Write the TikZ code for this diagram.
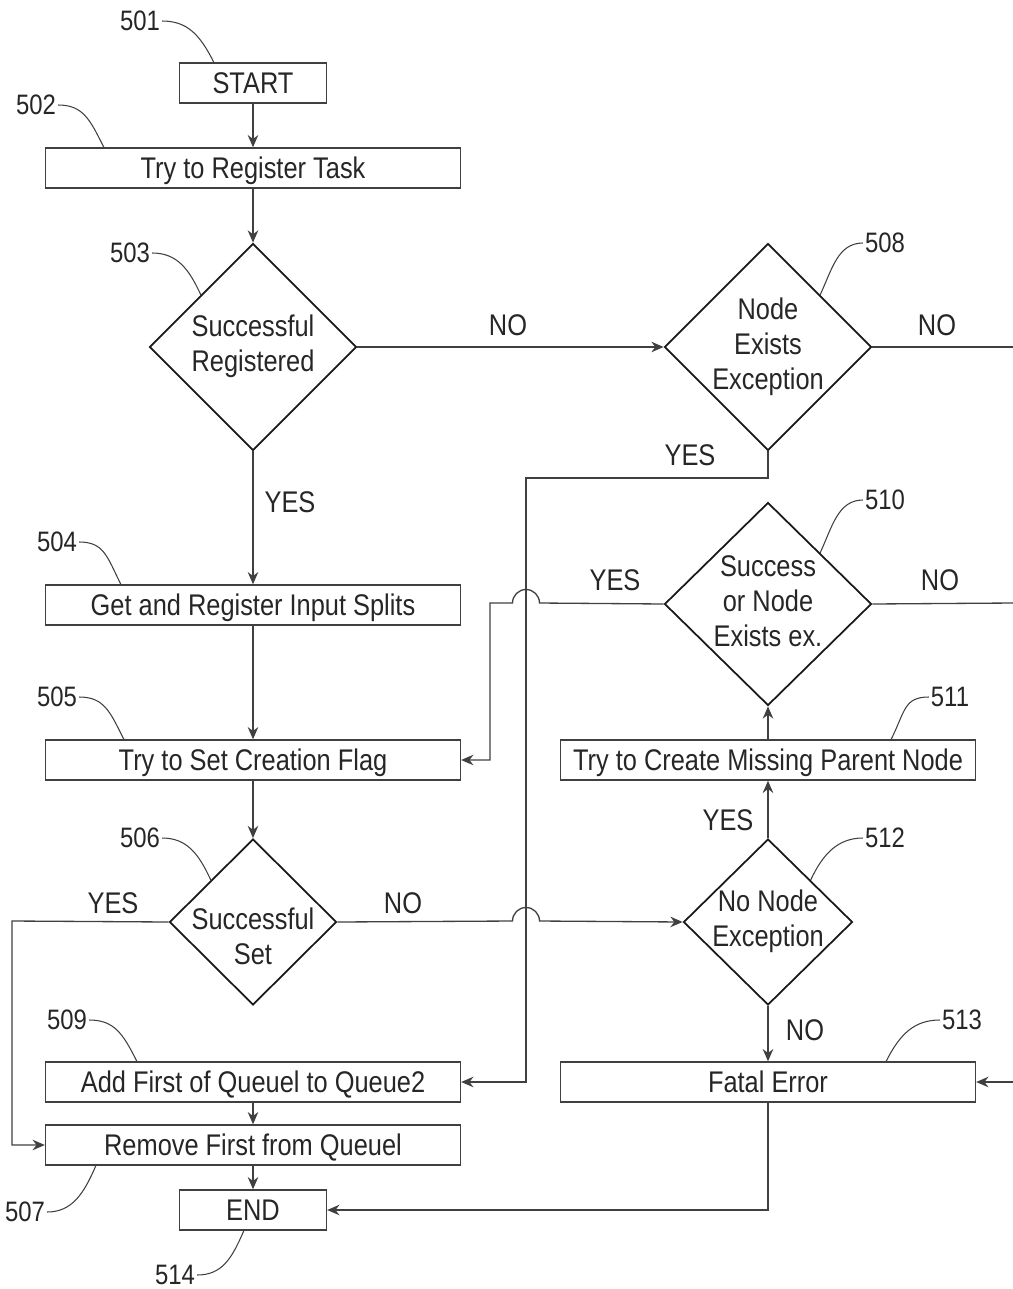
\documentclass[tikz,border=0pt]{standalone}
\usepackage{fontspec}
\setmainfont{Liberation Sans}[FakeStretch=0.85]
\usetikzlibrary{shapes.geometric,arrows.meta,calc}
\newcommand{\dgfont}{\fontsize{17}{20}\selectfont}
\begin{document}
\begin{tikzpicture}[x=0.02cm,y=-0.02cm,
  every node/.style={font=\dgfont, text=black!85},
  box/.style={draw=black!75, line width=0.8pt, minimum width=8.3cm, minimum height=0.8cm, inner sep=0pt, text height=12.2pt, text depth=0pt},
  smallbox/.style={box, minimum width=2.94cm},
  dia/.style={draw=black!90, line width=1pt, shape=diamond, inner sep=0pt},
  txt/.style={align=center, inner sep=0pt},
  num/.style={inner sep=1pt, font=\fontsize{16}{19}\selectfont},
  lab/.style={inner sep=1pt},
  conn/.style={draw=black!75, line width=0.75pt},
  arr/.style={conn, -{Stealth[length=7pt,width=6pt]}},
  lead/.style={draw=black!75, line width=0.6pt}
]
\useasboundingbox (0,0) rectangle (1013,1289);

% boxes
\node[smallbox] (start) at (253,83) {START};
\node[box] (b502) at (253,168) {Try to Register Task};
\node[box] (b504) at (253,605) {Get and Register Input Splits};
\node[box] (b505) at (253,760) {Try to Set Creation Flag};
\node[box] (b509) at (253,1082) {Add First of Queuel to Queue2};
\node[box] (b507) at (253,1145) {Remove First from Queuel};
\node[smallbox] (end) at (253,1210) {END};
\node[box] (b511) at (768,760) {Try to Create Missing Parent Node};
\node[box] (b513) at (768,1082) {Fatal Error};

% diamonds
\node[dia, minimum width=4.14cm, minimum height=4.14cm] (d503) at (253,347) {};
\node[txt] at (253,346) {Successful\\Registered};
\node[dia, minimum width=4.14cm, minimum height=4.14cm] (d508) at (768,347) {};
\node[txt] at (768,347) {Node\\Exists\\Exception};
\node[dia, minimum width=4.14cm, minimum height=4.06cm] (d510) at (768,604) {};
\node[txt] at (768,601) {Success\\or Node\\Exists ex.};
\node[dia, minimum width=3.34cm, minimum height=3.32cm] (d506) at (253,922) {};
\node[txt] at (253,936) {Successful\\Set};
\node[dia, minimum width=3.38cm, minimum height=3.32cm] (d512) at (768,922) {};
\node[txt] at (768,921) {No Node\\Exception};

% free ends
\coordinate (r1) at (1013,347);
\coordinate (r2) at (1013,603);
\coordinate (r3) at (1013,1082);
\coordinate (j1) at (526,478);
\coordinate (j2) at (490,603);
\coordinate (j3) at (12,921);

% connectors
\draw[arr] (start) -- (b502);
\draw[arr] (b502) -- (d503);
\draw[arr] (d503) -- (b504);
\draw[arr] (b504) -- (b505);
\draw[arr] (b505) -- (d506);
\draw[arr] (b509) -- (b507);
\draw[arr] (b507) -- (end);
\draw[arr] (d503.east) -- (d508.west);
\draw[conn] (d508.east) -- (r1);
\draw[arr] (d508.south) |- (j1) |- (b509.east);
\draw[arr] (d510.west) -- (539.5,603) arc[start angle=0, end angle=-180, radius=13.5] -- (j2) |- (b505.east);
\draw[conn] (d510.east) -- (r2);
\draw[arr] (b511.north) -- (d510.south);
\draw[arr] (d512.north) -- (b511.south);
\draw[arr] (d506.east) -- (512.5,921) arc[start angle=180, end angle=360, radius=13.5] -- (d512.west);
\draw[arr] (d506.west) -- (j3) |- (b507.west);
\draw[arr] (d512.south) -- (b513.north);
\draw[arr] (b513.south) |- (end.east);
\draw[arr] (r3) -- (b513.east);

% YES / NO labels
\node[lab] at (290,502) {YES};
\node[lab] at (508,325) {NO};
\node[lab] at (937,325) {NO};
\node[lab] at (690,455) {YES};
\node[lab] at (615,580) {YES};
\node[lab] at (940,580) {NO};
\node[lab] at (728,820) {YES};
\node[lab] at (113,903) {YES};
\node[lab] at (403,903) {NO};
\node[lab] at (805,1030) {NO};

% reference numbers
\node[num] (l501) at (140,21) {501};
\node[num] (l502) at (36,105) {502};
\node[num] (l503) at (130,253) {503};
\node[num] (l504) at (57,542) {504};
\node[num] (l505) at (57,697) {505};
\node[num] (l506) at (140,838) {506};
\node[num] (l507) at (25,1212) {507};
\node[num] (l508) at (885,243) {508};
\node[num] (l509) at (67,1020) {509};
\node[num] (l510) at (885,500) {510};
\node[num] (l511) at (950,697) {511};
\node[num] (l512) at (885,838) {512};
\node[num] (l513) at (962,1020) {513};
\node[num] (l514) at (175,1275) {514};

% leader lines
\draw[lead] (l501.east) .. controls +(25,0) and +(-14,-28) .. ($(start.north west)+(35,0)$);
\draw[lead] (l502.east) .. controls +(25,0) and +(-14,-28) .. ($(b502.north west)+(59,0)$);
\draw[lead] (l503.east) .. controls +(25,0) and +(-12,-26) .. ($(d503.west)!0.5!(d503.north)$);
\draw[lead] (l504.east) .. controls +(25,0) and +(-14,-28) .. ($(b504.north west)+(76,0)$);
\draw[lead] (l505.east) .. controls +(25,0) and +(-14,-28) .. ($(b505.north west)+(79,0)$);
\draw[lead] (l506.east) .. controls +(25,0) and +(-12,-26) .. ($(d506.west)!0.5!(d506.north)$);
\draw[lead] (l509.east) .. controls +(25,0) and +(-14,-28) .. ($(b509.north west)+(92,0)$);
\draw[lead] (l507.east) .. controls +(25,0) and +(-12,28) .. ($(b507.south west)+(51,0)$);
\draw[lead] (l514.east) .. controls +(25,0) and +(-12,28) .. ($(end.south west)+(65,0)$);
\draw[lead] (l508.west) .. controls +(-25,0) and +(12,-26) .. ($(d508.north)!0.5!(d508.east)$);
\draw[lead] (l510.west) .. controls +(-25,0) and +(12,-26) .. ($(d510.north)!0.5!(d510.east)$);
\draw[lead] (l512.west) .. controls +(-25,0) and +(12,-26) .. ($(d512.north)!0.5!(d512.east)$);
\draw[lead] (l511.west) .. controls +(-25,0) and +(14,-28) .. ($(b511.north east)+(-85,0)$);
\draw[lead] (l513.west) .. controls +(-25,0) and +(14,-28) .. ($(b513.north east)+(-90,0)$);
\end{tikzpicture}
\end{document}
